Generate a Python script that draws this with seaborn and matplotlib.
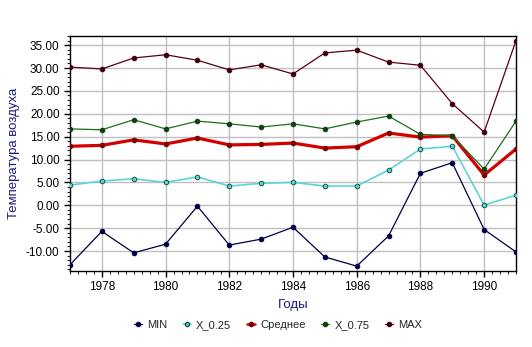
import numpy as np
import pandas as pd
import matplotlib
matplotlib.use("Agg")
import matplotlib.pyplot as plt
import seaborn as sns
from matplotlib.ticker import MultipleLocator, FormatStrFormatter

years = list(range(1977, 1992))
v_min = [-13.0, -5.7, -10.4, -8.5, -0.2, -8.7, -7.4, -4.8, -11.3, -13.3, -6.7, 7.0, 9.3, -5.3, -10.2]
v_q25 = [4.4, 5.3, 5.8, 5.0, 6.2, 4.2, 4.8, 5.0, 4.2, 4.2, 7.7, 12.3, 12.9, 0.05, 2.2]
v_mean = [12.9, 13.1, 14.3, 13.4, 14.7, 13.2, 13.3, 13.6, 12.5, 12.8, 15.8, 14.9, 15.2, 6.6, 12.3]
v_q75 = [16.7, 16.5, 18.7, 16.7, 18.4, 17.8, 17.1, 17.8, 16.7, 18.2, 19.5, 15.5, 15.2, 7.9, 18.4]
v_max = [30.2, 29.8, 32.2, 32.9, 31.7, 29.6, 30.7, 28.7, 33.3, 33.9, 31.3, 30.6, 22.2, 16.0, 36.0]

names = ["MIN", "X_0.25", "Среднее", "X_0.75", "MAX"]
series = [v_min, v_q25, v_mean, v_q75, v_max]
colors = ["#000046", "#5ad6d6", "#d40000", "#1e6e1e", "#5a0010"]
mcolors = ["#000046", "#1a5050", "#7a0000", "#104010", "#400010"]
mfaces = ["#000046", "#5ad6d6", "#7a0000", "#104010", "#400010"]
widths = [0.9, 1.2, 2.3, 0.9, 0.9]

sns.set_style("white")
plt.rcParams['font.family'] = ['Liberation Sans', 'DejaVu Sans']

fig = plt.figure(figsize=(5.32, 3.47), dpi=100)
ax = fig.add_axes([70/532, 1-270.7/347, (516-70)/532, (270.7-36)/347])

df = pd.DataFrame({"Год": years})
for n, s in zip(names, series):
    df[n] = s

handles = []
for n, c, mc, mf, w in zip(names, colors, mcolors, mfaces, widths):
    sns.lineplot(data=df, x="Год", y=n, ax=ax, color=c, linewidth=w,
                 marker="o", markersize=3.3, markeredgecolor=mc,
                 markerfacecolor=mf, markeredgewidth=0.7, zorder=3)
    h, = ax.plot([], [], color=c, linewidth=min(w, 1.8), marker="o",
                 markersize=3, markeredgecolor=mc, markerfacecolor=mf)
    handles.append(h)

ax.set_xlim(1977, 1991)
ax.set_ylim(-14.3, 37.0)
ax.xaxis.set_major_locator(MultipleLocator(2))
ax.xaxis.set_minor_locator(MultipleLocator(0.25))
ax.yaxis.set_major_locator(MultipleLocator(5))
ax.yaxis.set_minor_locator(MultipleLocator(1))
ax.yaxis.set_major_formatter(FormatStrFormatter("%.2f"))
ax.grid(True, which="major", color="#c0c0c0", linewidth=1.0, zorder=0)
ax.set_axisbelow(True)
for sp in ax.spines.values():
    sp.set_color("black")
    sp.set_linewidth(1.0)
ax.tick_params(axis="both", which="major", direction="out", length=4,
               width=1, labelsize=8.5, colors="black", bottom=True, left=True)
ax.tick_params(axis="both", which="minor", direction="out", length=2,
               width=0.8, bottom=True, left=True)

lab_color = "#1c1c7a"
ax.set_xlabel("Годы", fontsize=9.5, color=lab_color, labelpad=4)
ax.set_ylabel("Температура воздуха", fontsize=9.5, color=lab_color, labelpad=4)

fig.legend(handles, names, loc="center", bbox_to_anchor=(278/532, 1-325/347),
           ncol=5, frameon=False, fontsize=8, handlelength=0.7,
           handletextpad=0.5, columnspacing=1.4)

fig.savefig("out.png", dpi=100, facecolor="white")
